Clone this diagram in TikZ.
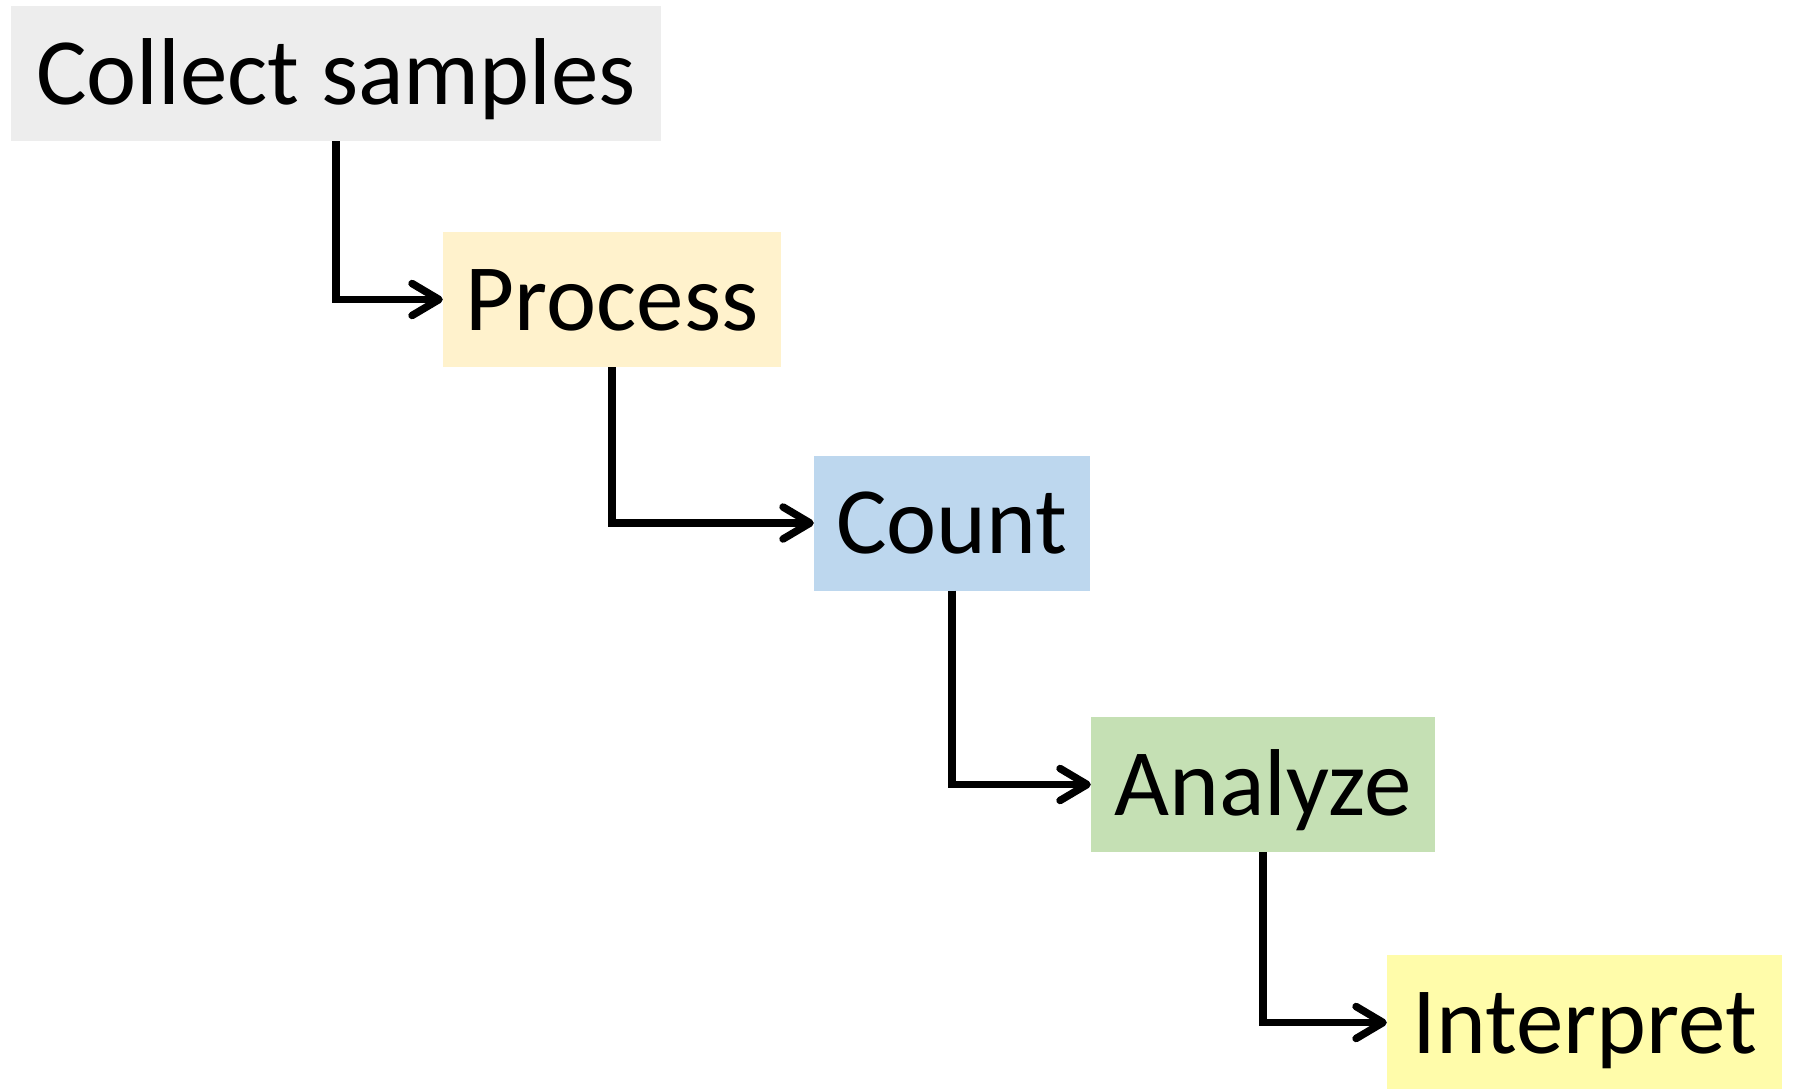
\documentclass[tikz,border=0pt]{standalone}
\usepackage{fontspec}
\setmainfont{Carlito}
\usetikzlibrary{arrows.meta}
\definecolor{cgray}{HTML}{EDEDED}
\definecolor{cgold}{HTML}{FFF2CC}
\definecolor{cblue}{HTML}{BDD7EE}
\definecolor{cgreen}{HTML}{C5E0B4}
\definecolor{cyellow}{HTML}{FFFCAA}
\begin{document}
\begin{tikzpicture}[x=1pt,y=-1pt,
  stepbox/.style={draw=none, inner sep=0pt, minimum height=135pt,
    font=\fontsize{95}{110}\selectfont, text height=61pt, text depth=0pt},
  link/.style={line width=7.5pt, line join=miter,
    -{Straight Barb[length=27pt,width=32pt,line cap=round,line join=round]}}
]
\useasboundingbox (0,0) rectangle (1793,1088);
\node[stepbox, fill=cgray,   minimum width=650pt] (collect)   at (336,73.5)   {Collect samples};
\node[stepbox, fill=cgold,   minimum width=338pt] (process)   at (612,299.5)  {Process};
\node[stepbox, fill=cblue,   minimum width=276pt] (count)     at (952,523)    {Count};
\node[stepbox, fill=cgreen,  minimum width=344pt] (analyze)   at (1263,784.5) {Analyze};
\node[stepbox, fill=cyellow, minimum width=395pt] (interpret) at (1584.5,1022.5) {Interpret};
\draw[link] (collect.south) |- (process.west);
\draw[link] (process.south) |- (count.west);
\draw[link] (count.south) |- (analyze.west);
\draw[link] (analyze.south) |- (interpret.west);
\end{tikzpicture}
\end{document}
